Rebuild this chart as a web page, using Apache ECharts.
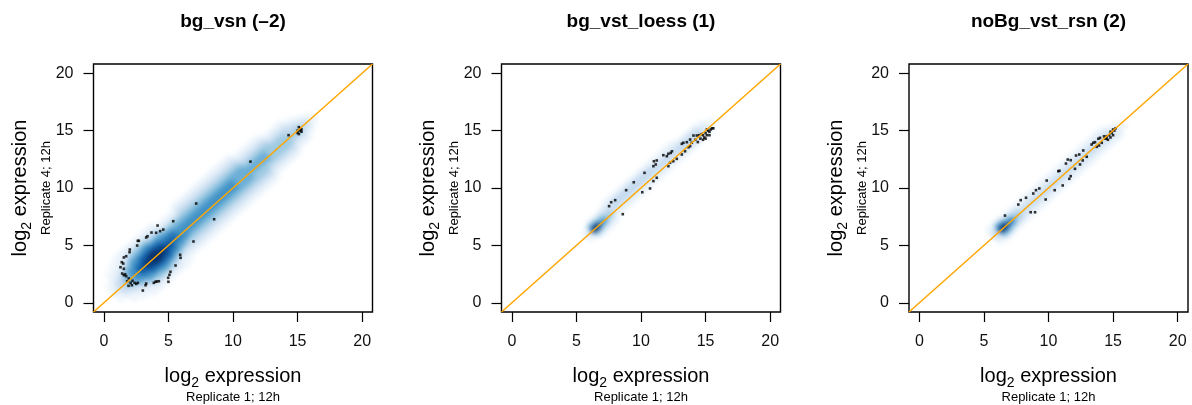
<!DOCTYPE html>
<html><head><meta charset="utf-8">
<script src="https://cdn.jsdelivr.net/npm/echarts@6/dist/echarts.min.js"></script>
<style>
html,body{margin:0;padding:0;background:#fff;}
#wrap{position:relative;width:1192px;height:405px;}
#dens,#main{position:absolute;left:0;top:0;width:1192px;height:405px;}
#dens{filter:blur(2.5px);}
</style></head><body>
<div id="wrap"><div id="dens"></div><div id="main"></div></div>
<script>
// ---------- data ----------
const panelTitles = ['bg_vsn (\u20132)', 'bg_vst_loess (1)', 'noBg_vst_rsn (2)'];
const tickValues = [0, 5, 10, 15, 20];
const axisRange = [-0.8, 20.8];
const xSubTitle = 'Replicate 1; 12h';
const ySubTitle = 'Replicate 4; 12h';

// density estimated along the diagonal: t = (x+y)/2 (rows), d = y - x (columns), level 0-9
const densT = [1,1.5,2,2.5,3,3.5,4,4.5,5,5.5,6,6.5,7,7.5,8,8.5,9,9.5,10,10.5,11,11.5,12,12.5,13,13.5,14,14.5,15,15.5,16];
const densD = [-4,-3.5,-3,-2.5,-2,-1.5,-1,-0.5,0,0.5,1,1.5,2,2.5,3,3.5,4];
const density1 = [
"00000011211000000","00001123332110000","00011234543211000","00112356665321100",
"00123567876532100","00124578987542100","00124679997642100","00123578987532100",
"00112467876532100","00012356776421000","00012346665421000","00012345665421000",
"00012345665432100","00012345665432100","00012345665432100","00012345665432100",
"00012345665432100","00012345665432100","00012345665432100","00012345555432100",
"00012345555432100","00012344554321000","00012344554321000","00001234554321000",
"00001234444321000","00001234443210000","00001234443210000","00000123433210000",
"00000123432100000","00000012321000000","00000001110000000"];
const density2 = [
"00000000000000000","00000000000000000","00000000000000000","00000000000000000",
"00000000000000000","00000000000000000","00000000000000000","00000000000000000",
"00000000000000000","00000000000000000","00000001210000000","00000014951000000",
"00000013641000000","00000012432000000","00000001232100000","00000001233100000",
"00000001233100000","00000001233100000","00000001233100000","00000001233100000",
"00000001233100000","00000001232100000","00000001232100000","00000001232100000",
"00000001232100000","00000001332000000","00000001332000000","00000001332000000",
"00000001221000000","00000000110000000","00000000000000000"];
const density3 = [
"00000000000000000","00000000000000000","00000000000000000","00000000000000000",
"00000000000000000","00000000000000000","00000000000000000","00000000000000000",
"00000000000000000","00000000000000000","00000012321000000","00000025962000000",
"00000014741000000","00000013431000000","00000012321000000","00000012321000000",
"00000012321000000","00000012321000000","00000012321000000","00000012321000000",
"00000012321000000","00000012321000000","00000012321000000","00000012321000000",
"00000012321000000","00000012321000000","00000012321000000","00000012321000000",
"00000012210000000","00000001100000000","00000000000000000"];

const points1 = [[15.1,15.3],[15.2,15.0],[15.0,14.8],[15.3,15.1],[15.1,14.7],[15.2,15.2],[15.0,15.0],[15.3,14.9],[14.3,14.6],
[11.35,12.3],[7.15,8.65],[8.54,7.28],[6.94,5.34],[5.37,7.11],[4.16,6.73],[4.6,6.38],[4.36,6.24],[3.69,6.12],[3.38,5.8],
[3.28,5.69],[2.71,5.4],[2.58,4.99],[2.01,4.64],[1.99,4.41],[1.73,4.06],[1.55,3.95],[1.39,3.54],[1.5,3.42],[1.29,3.1],
[1.55,2.96],[1.42,2.55],[1.55,2.4],[1.65,2.49],[1.73,2.32],[1.93,2.12],[1.81,1.88],[2.07,1.74],[2.22,1.92],[2.38,1.74],
[2.51,1.65],[2.63,1.74],[1.91,1.48],[2.17,1.53],[3.02,1.07],[3.28,1.68],[3.23,1.53],[3.87,1.74],[4.0,1.83],[4.1,1.86],
[4.26,1.88],[5.0,1.83],[5.08,2.44],[5.16,2.7],[4.98,2.18],[5.55,3.25],[5.91,4.18],[5.94,3.92],[4.05,6.1],[2.63,5.4]];
const points2 = [[8.59,7.72],[7.53,8.42],[7.69,8.76],[8.0,8.94],[8.85,9.81],[9.44,10.5],[10.1,9.63],[10.7,9.96],[10.27,11.32],
[10.96,10.6],[11.22,10.89],[10.96,11.9],[11.14,12.05],[11.22,12.4],[11.0,12.33],[11.73,12.86],[12.0,12.77],[12.12,12.98],
[12.3,13.06],[12.4,13.2],[12.12,11.9],[12.25,12.2],[12.5,12.33],[12.77,12.54],[13.16,13.85],[13.28,13.94],[13.55,13.99],
[13.8,14.22],[14.06,14.57],[14.32,14.57],[13.16,12.92],[13.41,13.2],[13.67,13.55],[13.8,13.64],[13.93,13.94],[14.6,14.3],
[14.8,14.6],[14.9,14.4],[15.0,14.8],[15.1,14.6],[15.2,15.0],[15.3,14.9],[15.4,15.1],[15.5,15.2],[15.1,15.1],[14.7,14.7],
[15.0,14.3],[14.4,14.0],[14.5,14.6],[15.3,14.6],[15.6,15.2],[14.2,14.2],[14.8,14.2]];
const points3 = [[6.63,7.6],[7.66,8.56],[7.85,8.94],[8.26,9.15],[8.62,7.89],[8.96,7.89],[8.82,9.52],[9.03,9.81],[9.29,9.96],
[9.78,9.0],[9.86,10.65],[10.48,9.81],[10.76,11.46],[10.85,11.5],[11.1,10.22],[11.61,10.8],[11.72,11.03],[11.35,12.13],
[11.49,12.48],[11.72,12.42],[12.05,11.67],[12.13,12.83],[12.38,12.92],[12.69,13.27],[12.44,12.05],[12.65,12.4],[12.96,12.72],
[13.34,13.79],[13.47,13.94],[13.6,13.99],[13.86,14.29],[13.99,14.37],[13.73,13.59],[13.91,13.7],[14.12,13.94],[14.4,14.3],
[14.5,14.5],[14.6,14.2],[14.7,14.6],[14.8,14.4],[14.9,14.8],[15.0,14.6],[15.1,15.0],[15.2,15.2],[14.8,14.9],[14.5,14.3],
[15.0,15.1],[14.3,14.5]];

// ---------- styling / layout ----------
const FONT = '"Liberation Sans", Arial, Helvetica, sans-serif';
const blues = ['#ffffff','#eef5fc','#deebf7','#c6dbef','#9ecae1','#6baed6','#4292c6','#2171b5','#08519c','#08306b'];
const lefts = [93.5, 501.5, 909];
const TOP = 64, W = 279, H = 248;
const densities = [density1, density2, density3];
const pointSets = [points1, points2, points3];
const rotDeg = Math.atan(H / W) * 180 / Math.PI;

function densityData(rows) {
  const out = [];
  rows.forEach((row, r) => {
    const t = densT[r];
    for (let c = 0; c < densD.length; c++) {
      const lv = +row[c];
      if (lv > 0) out.push([t - densD[c] / 2, t + densD[c] / 2, lv]);
    }
  });
  out.sort((a, b) => a[2] - b[2]);
  return out;
}

function grids(show) {
  return lefts.map(l => ({left: l, top: TOP, width: W, height: H, show: show,
    borderColor: '#000', borderWidth: 1.4, backgroundColor: 'transparent'}));
}
function axes(show) {
  return lefts.map((l, i) => ({
    type: 'value', gridIndex: i, min: axisRange[0], max: axisRange[1], show: show,
    axisLine: {show: false, onZero: false},
    axisTick: {show: true, length: 10, inside: false, customValues: tickValues, lineStyle: {color: '#000', width: 1.2}},
    axisLabel: {show: true, customValues: tickValues, fontSize: 16, color: '#111', fontFamily: FONT},
    splitLine: {show: false}
  }));
}

// density layer
const densChart = echarts.init(document.getElementById('dens'), null, {renderer: 'canvas'});
densChart.setOption({
  animation: false,
  grid: grids(false),
  xAxis: axes(false),
  yAxis: axes(false),
  series: densities.map((rows, i) => ({
    type: 'scatter', xAxisIndex: i, yAxisIndex: i, silent: true,
    symbol: 'rect', symbolSize: [10.5, 5.6], symbolRotate: rotDeg,
    itemStyle: {color: p => blues[p.value[2]], opacity: 1},
    data: densityData(rows)
  }))
});

// main layer
const chart = echarts.init(document.getElementById('main'), null, {renderer: 'canvas'});
const xAx = axes(true).map(a => (a.axisLabel.margin = 22, a));
const yAx = axes(true).map(a => (a.axisLabel.margin = 20, a));
const series = [];
const diag = axisRange.map(v => [v, v]);
pointSets.forEach((pts, i) => {
  series.push({type: 'scatter', xAxisIndex: i, yAxisIndex: i, silent: true, symbol: 'rect', symbolSize: 2.6,
    itemStyle: {color: '#000'}, data: pts, z: 3});
  series.push({type: 'line', xAxisIndex: i, yAxisIndex: i, silent: true, symbol: 'none',
    lineStyle: {color: '#FFA500', width: 1.5}, data: diag, z: 4});
});
const graphic = [];
lefts.forEach((l, i) => {
  const cx = l + W / 2, cy = TOP + H / 2;
  graphic.push({type: 'text', x: cx, y: 22, style: {text: panelTitles[i], fontSize: 19, fontWeight: 'bold', fontFamily: FONT,
    fill: '#000', align: 'center', verticalAlign: 'middle'}});
  const rich = {a: {fontSize: 20, fontFamily: FONT, lineHeight: 24, verticalAlign: 'top', fill: '#000'},
                s: {fontSize: 14, fontFamily: FONT, lineHeight: 14, verticalAlign: 'bottom', fill: '#000'}};
  graphic.push({type: 'text', x: cx, y: 378, style: {text: '{a|log}{s|2}{a| expression}', rich: rich,
    align: 'center', verticalAlign: 'middle'}});
  graphic.push({type: 'text', x: cx, y: 397, style: {text: xSubTitle, fontSize: 13, fontFamily: FONT, fill: '#000',
    align: 'center', verticalAlign: 'middle'}});
  graphic.push({type: 'text', x: l - 71, y: cy, rotation: Math.PI / 2, style: {text: '{a|log}{s|2}{a| expression}', rich: rich,
    align: 'center', verticalAlign: 'middle'}});
  graphic.push({type: 'text', x: l - 47, y: cy, rotation: Math.PI / 2, style: {text: ySubTitle, fontSize: 13, fontFamily: FONT,
    fill: '#000', align: 'center', verticalAlign: 'middle'}});
});
chart.setOption({
  animation: false,
  backgroundColor: 'transparent',
  grid: grids(true),
  xAxis: xAx,
  yAxis: yAx,
  series: series,
  graphic: graphic
});
</script>
</body></html>
